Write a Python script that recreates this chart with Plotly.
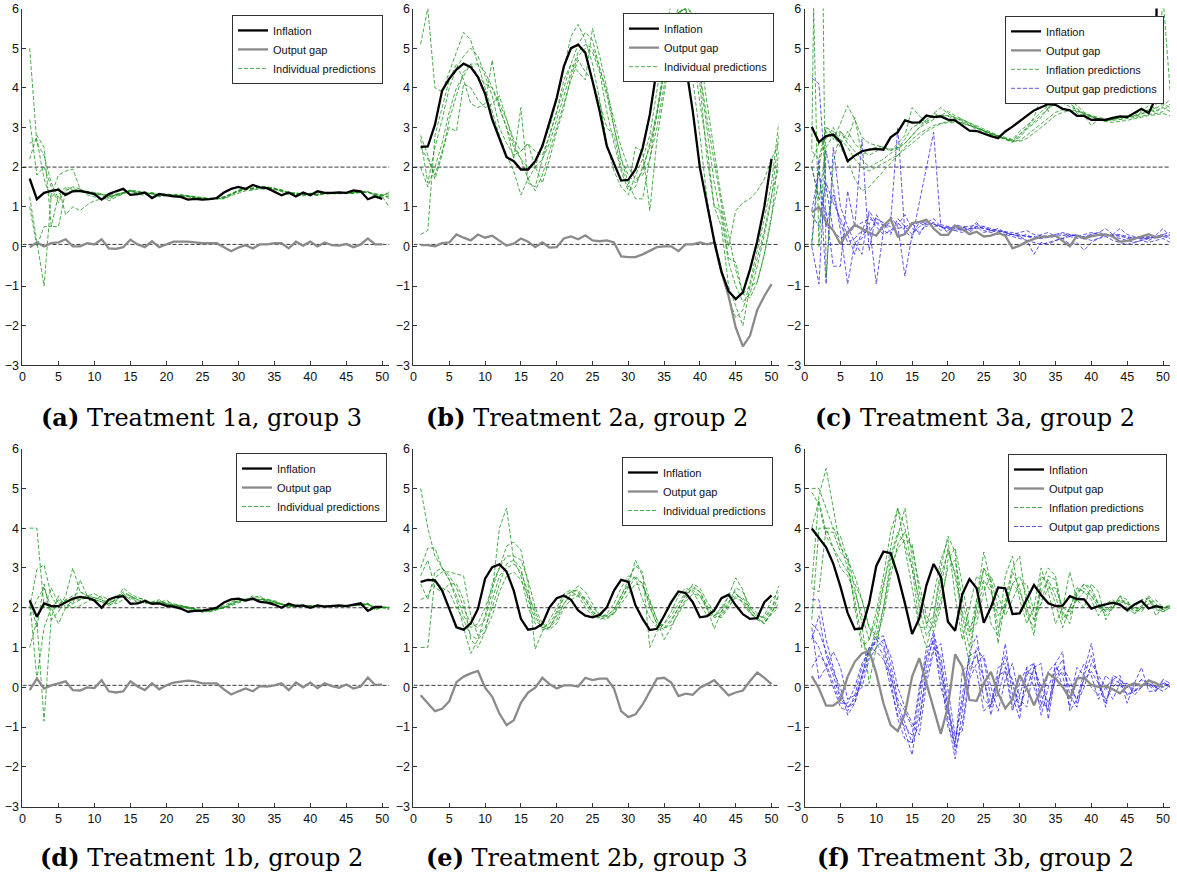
import plotly.graph_objects as go

# ---------------- data ----------------
periods = list(range(1, 51))
pred_periods = list(range(1, 52))
x_ticks = [0, 5, 10, 15, 20, 25, 30, 35, 40, 45, 50]
y_ticks = [-3, -2, -1, 0, 1, 2, 3, 4, 5, 6]
inflation_target = 2.0
gap_line = 0.05

captions = ["(a)|Treatment 1a, group 3", "(b)|Treatment 2a, group 2", "(c)|Treatment 3a, group 2",
            "(d)|Treatment 1b, group 2", "(e)|Treatment 2b, group 3", "(f)|Treatment 3b, group 2"]

# (a) Treatment 1a, group 3
a_inf = [1.71,1.19,1.35,1.40,1.43,1.30,1.39,1.40,1.36,1.32,1.18,1.32,1.39,1.45,1.30,1.32,1.36,1.22,1.32,1.29,
         1.26,1.25,1.18,1.20,1.18,1.19,1.22,1.36,1.45,1.50,1.45,1.55,1.49,1.47,1.39,1.29,1.36,1.26,1.36,1.29,
         1.39,1.35,1.35,1.36,1.35,1.41,1.39,1.19,1.26,1.20]
a_gap = [-0.02,0.10,0.00,0.08,0.10,0.18,0.00,0.00,0.08,0.05,0.18,-0.05,-0.06,-0.02,0.17,0.05,-0.02,0.13,-0.02,0.05,
         0.12,0.12,0.12,0.10,0.08,0.08,0.08,-0.02,-0.12,-0.03,0.03,-0.05,0.05,0.05,0.08,0.08,-0.05,0.12,0.02,0.12,
         0.00,0.10,0.03,0.02,0.06,-0.02,0.05,0.20,0.05,0.05]
a_pred1 = [5.0,2.6,2.3,1.6,1.2,1.35,1.4,1.38,1.36,1.33,1.3,1.25,1.3,1.35,1.4,1.33,1.32,1.34,1.28,1.3,1.29,1.27,1.26,1.22,1.21,1.2,1.2,1.22,1.3,1.4,1.45,1.46,1.5,1.48,1.46,1.4,1.33,1.35,1.3,1.33,1.3,1.35,1.34,1.34,1.35,1.35,1.38,1.37,1.3,1.27,1.25]
a_pred2 = [3.2,1.8,2.0,1.5,1.1,1.45,1.42,1.4,1.38,1.35,1.32,1.22,1.3,1.37,1.42,1.35,1.33,1.35,1.27,1.3,1.3,1.28,1.27,1.22,1.2,1.19,1.2,1.23,1.33,1.42,1.47,1.47,1.52,1.5,1.47,1.4,1.32,1.34,1.3,1.34,1.31,1.36,1.35,1.34,1.35,1.35,1.39,1.38,1.28,1.26,1.4]
a_pred3 = [2.2,2.8,2.5,0.5,0.5,1.4,1.5,1.45,1.3,1.25,1.2,1.2,1.27,1.35,1.42,1.4,1.35,1.33,1.3,1.32,1.3,1.3,1.28,1.25,1.22,1.2,1.21,1.25,1.32,1.38,1.43,1.45,1.48,1.47,1.45,1.42,1.35,1.33,1.3,1.32,1.3,1.33,1.33,1.32,1.33,1.34,1.36,1.36,1.32,1.3,1.2]
a_pred4 = [1.25,0.1,-1.0,1.3,1.8,1.9,1.95,1.45,1.35,1.32,1.3,1.15,1.25,1.33,1.4,1.3,1.3,1.33,1.25,1.28,1.28,1.26,1.25,1.2,1.19,1.18,1.2,1.21,1.3,1.4,1.45,1.44,1.5,1.47,1.45,1.38,1.3,1.33,1.27,1.33,1.28,1.36,1.34,1.34,1.35,1.35,1.39,1.38,1.25,1.26,0.98]
a_pred5 = [2.6,2.7,1.7,1.2,1.5,0.8,1.0,0.9,1.05,1.15,1.2,1.25,1.3,1.33,1.38,1.38,1.36,1.32,1.31,1.3,1.3,1.29,1.27,1.24,1.22,1.2,1.2,1.2,1.28,1.35,1.4,1.42,1.45,1.44,1.43,1.4,1.35,1.31,1.31,1.31,1.29,1.32,1.33,1.33,1.33,1.34,1.36,1.37,1.33,1.3,1.3]
a_pred6 = [1.0,0.0,0.5,0.5,1.3,1.5,1.45,1.42,1.38,1.36,1.33,1.28,1.32,1.36,1.4,1.36,1.34,1.36,1.3,1.32,1.3,1.3,1.28,1.25,1.23,1.21,1.22,1.25,1.33,1.4,1.44,1.47,1.5,1.5,1.47,1.43,1.36,1.35,1.32,1.34,1.32,1.35,1.35,1.35,1.36,1.36,1.37,1.37,1.3,1.28,1.36]

# (b) Treatment 2a, group 2
b_inf = [2.51,2.52,3.07,3.93,4.23,4.46,4.61,4.52,4.27,3.85,3.20,2.75,2.25,2.15,1.94,1.94,2.15,2.53,3.11,3.74,
         4.54,5.00,5.09,4.88,4.17,3.41,2.53,2.08,1.66,1.68,1.94,2.48,3.32,4.50,5.40,5.80,5.60,4.60,3.41,1.98,
         1.05,0.13,-0.63,-1.13,-1.33,-1.16,-0.58,0.13,1.01,2.21]
b_gap = [0.03,0.03,0.00,0.08,0.10,0.30,0.22,0.15,0.30,0.22,0.27,0.15,0.02,0.07,0.20,0.12,-0.02,0.10,-0.03,-0.02,
         0.20,0.25,0.18,0.28,0.15,0.13,0.15,0.10,-0.25,-0.27,-0.27,-0.20,-0.12,-0.02,0.00,0.00,-0.12,0.05,0.05,0.10,
         0.05,0.10,-0.65,-1.25,-2.05,-2.52,-2.25,-1.60,-1.25,-0.95]
b_pred1 = [5.1,6.0,4.0,3.9,4.4,4.9,5.4,5.2,4.6,4.0,3.4,2.8,2.3,1.9,1.3,1.7,2.0,2.6,3.0,3.7,4.5,5.3,5.6,5.2,4.6,3.7,2.6,1.9,1.5,1.3,1.8,2.2,2.8,3.9,5.0,6.2,6.5,5.9,4.2,2.8,1.2,0.2,-0.6,-1.3,-1.8,-1.6,-0.9,-0.1,0.7,1.6,3.1]
b_pred2 = [2.7,1.6,2.5,3.2,4.0,4.5,4.8,5.0,4.8,4.3,3.8,3.0,2.6,2.3,2.4,2.6,2.4,2.3,2.8,3.4,4.0,4.6,5.1,5.4,5.2,4.5,3.8,3.0,2.2,1.8,1.6,1.9,2.6,3.4,4.4,5.6,6.0,6.3,5.6,4.3,2.9,1.6,0.7,-0.4,-1.0,-1.4,-1.2,-0.5,0.3,1.2,2.8]
b_pred3 = [2.0,1.5,2.0,2.6,3.4,4.0,4.3,4.6,4.6,4.4,4.0,3.5,3.0,2.5,2.2,2.0,2.0,2.2,2.6,3.2,3.8,4.4,4.9,5.1,5.0,4.5,3.9,3.2,2.5,2.0,1.7,1.8,2.2,3.0,4.0,5.1,5.8,6.2,5.8,4.9,3.6,2.4,1.2,0.3,-0.6,-1.2,-1.3,-0.9,-0.2,0.7,2.4]
b_pred4 = [0.3,0.4,2.8,3.5,4.2,4.6,4.2,3.6,3.5,3.6,4.7,3.5,3.0,2.2,3.5,1.6,1.5,2.2,2.8,3.4,4.2,4.6,4.4,4.2,5.5,4.8,4.0,3.0,2.2,1.6,1.2,1.2,2.2,3.4,4.5,5.8,5.9,6.0,5.0,3.6,2.5,1.0,0.5,-1.0,-1.5,-2.0,-1.0,-0.3,0.4,1.3,2.0]
b_pred5 = [2.5,2.2,1.8,2.4,3.0,2.9,4.1,4.0,3.7,3.5,3.6,3.8,3.2,2.6,2.2,1.7,1.4,1.8,2.4,3.0,3.6,4.2,4.7,4.4,4.2,3.6,3.0,2.8,2.0,1.5,2.5,2.4,0.9,2.7,3.8,5.0,5.9,6.0,5.2,4.1,2.2,1.0,0.9,-0.3,-0.4,-1.2,-1.0,-0.9,-0.2,0.8,1.6]
b_pred6 = [2.8,2.3,1.7,2.3,3.2,3.8,4.4,4.6,4.3,4.1,4.0,3.6,3.2,2.7,2.4,2.6,2.0,1.6,2.2,2.9,3.5,4.3,4.8,5.0,4.9,4.4,3.4,2.6,1.9,1.4,1.5,2.0,2.5,3.3,4.4,5.4,5.9,6.0,5.4,4.4,3.2,2.1,1.1,0.0,0.9,1.1,1.2,1.4,1.7,2.2,2.6]

# (c) Treatment 3a, group 2
c_inf = [3.02,2.63,2.78,2.82,2.63,2.15,2.29,2.40,2.44,2.46,2.44,2.75,2.88,3.18,3.12,3.13,3.30,3.26,3.28,3.20,
         3.18,3.05,2.92,2.91,2.84,2.78,2.73,2.90,3.02,3.15,3.29,3.43,3.51,3.59,3.57,3.47,3.43,3.29,3.29,3.19,
         3.20,3.19,3.24,3.28,3.26,3.36,3.47,3.36,3.74,26.0]
c_gap = [0.86,0.99,0.61,0.40,0.06,0.35,0.54,0.44,0.35,0.27,0.52,0.69,0.25,0.31,0.59,0.62,0.67,0.45,0.29,0.29,
         0.52,0.44,0.31,0.37,0.25,0.27,0.34,0.27,-0.05,0.02,0.12,0.19,0.24,0.25,0.27,0.14,0.00,0.27,0.20,0.25,
         0.29,0.30,0.25,0.12,0.14,0.19,0.25,0.31,0.23,0.27]
c_pred1 = [8.2,0.0,2.9,2.7,3.1,3.55,3.2,2.75,2.6,2.55,2.5,2.45,2.5,2.6,2.8,3.0,3.2,3.3,3.3,3.28,3.22,3.18,3.08,2.98,2.92,2.85,2.78,2.72,2.68,2.82,2.98,3.14,3.3,3.48,3.6,3.62,3.52,3.45,3.32,3.26,3.2,3.18,3.2,3.25,3.28,3.28,3.34,3.44,3.38,3.55,3.7]
c_pred2 = [2.45,16.2,-0.8,2.1,2.9,2.7,3.25,2.3,2.45,2.5,2.52,2.42,2.48,2.7,3.0,3.1,3.15,3.35,3.3,3.3,3.25,3.15,3.05,2.95,2.9,2.82,2.78,2.7,2.65,2.75,2.95,3.1,3.25,3.5,3.65,3.72,3.6,3.48,3.35,3.27,3.22,3.18,3.2,3.24,3.26,3.3,3.38,3.45,3.42,3.5,3.4]
c_pred3 = [0.0,2.0,3.0,2.9,2.7,2.5,2.2,2.0,1.9,2.0,2.1,2.2,2.3,2.45,2.6,2.75,2.9,3.0,3.1,3.15,3.15,3.12,3.05,2.98,2.9,2.84,2.78,2.72,2.65,2.68,2.8,2.95,3.1,3.25,3.38,3.45,3.45,3.42,3.35,3.28,3.22,3.18,3.18,3.2,3.22,3.25,3.28,3.33,3.35,3.4,3.6]
c_pred4 = [2.0,1.2,2.5,2.8,2.5,2.2,1.7,1.4,1.5,1.7,1.9,2.1,2.3,2.5,2.7,2.85,2.95,3.05,3.1,3.12,3.12,3.1,3.05,3.0,2.92,2.85,2.78,2.72,2.66,2.65,2.72,2.85,3.0,3.15,3.3,3.38,3.42,3.4,3.35,3.28,3.22,3.15,3.13,3.15,3.18,3.22,3.26,3.3,3.32,3.35,3.3]
c_pred5 = [2.4,2.2,3.0,2.8,2.9,2.6,2.4,2.2,2.0,2.1,2.2,2.35,2.45,2.6,2.8,3.0,3.1,3.2,3.3,3.4,3.3,3.2,3.1,3.0,2.9,2.82,2.75,2.7,2.62,2.8,3.0,3.25,3.8,3.4,4.0,3.6,3.7,3.35,3.3,3.05,3.2,3.15,3.25,3.2,3.3,3.28,3.35,3.4,3.5,6.3,3.9]
c_pred6 = [2.1,2.6,2.7,3.0,2.6,2.9,2.6,2.4,2.3,2.4,2.5,2.4,2.6,2.8,3.5,3.3,3.1,3.35,3.5,3.35,3.25,3.2,3.12,3.02,2.95,2.88,2.8,2.75,2.7,2.9,3.05,3.2,3.4,3.55,3.7,3.8,3.7,3.55,3.38,3.3,3.25,3.22,3.24,3.28,3.3,3.34,3.42,3.55,3.48,3.6,3.5]
c_gpred1 = [4.25,4.1,1.5,0.4,0.2,0.3,0.5,0.6,0.7,0.6,0.55,0.5,0.45,0.5,0.55,0.6,0.62,0.55,0.5,0.48,0.45,0.48,0.45,0.5,0.45,0.42,0.4,0.38,0.35,0.3,0.25,0.2,0.2,0.22,0.25,0.28,0.25,0.2,0.22,0.25,0.28,0.3,0.28,0.25,0.22,0.2,0.2,0.22,0.25,0.25,0.3]
c_gpred2 = [0.1,2.2,-0.95,2.5,1.0,0.5,0.1,-0.2,0.9,0.6,0.4,0.3,0.7,0.5,0.3,0.5,0.6,0.7,0.5,0.45,0.4,0.5,0.5,0.55,0.5,0.45,0.4,0.35,0.3,0.28,0.25,0.25,0.22,0.25,0.3,0.32,0.28,0.25,0.25,0.3,0.35,0.3,0.28,0.3,0.25,0.2,0.22,0.25,0.2,0.25,0.2]
c_gpred3 = [2.0,1.2,0.9,-0.5,-0.5,1.4,0.5,2.7,-0.1,0.8,0.5,0.6,3.0,0.3,0.6,0.3,0.6,0.5,0.55,0.5,0.45,0.4,0.45,0.45,0.5,0.4,0.35,0.3,0.3,0.25,0.15,0.1,0.05,0.1,0.15,0.2,0.25,0.3,0.2,0.15,0.2,0.3,0.25,0.2,0.15,0.1,0.15,0.2,0.25,0.3,0.35]
c_gpred4 = [0.0,-0.95,2.4,1.5,0.4,-0.95,0.1,0.2,0.6,-0.95,0.4,0.75,0.5,-0.75,0.3,0.6,0.5,0.6,0.4,0.5,0.4,0.35,0.45,0.6,0.4,0.35,0.3,0.3,0.25,0.2,0.15,-0.2,0.1,0.05,0.15,0.2,0.05,0.1,-0.1,0.1,0.2,0.25,0.15,0.1,0.05,0.1,0.15,0.1,0.15,0.2,0.1]
c_gpred5 = [0.8,0.5,1.6,1.1,0.7,0.3,-0.2,0.4,0.8,0.5,0.3,0.4,0.6,0.4,0.2,1.1,2.0,2.88,0.5,0.35,0.5,0.4,0.35,0.5,0.45,0.4,0.38,0.35,0.3,0.35,0.4,0.3,0.28,0.25,0.3,0.35,0.3,0.28,0.2,0.3,0.35,0.45,0.3,0.28,0.2,0.22,0.18,0.2,0.28,0.45,0.25]
c_gpred6 = [0.9,1.9,0.5,1.3,0.6,0.1,0.2,0.4,0.3,0.7,0.6,0.35,0.55,0.8,0.45,0.35,0.55,0.6,0.5,0.4,0.55,0.5,0.4,0.5,0.35,0.4,0.45,0.35,0.3,0.25,0.3,0.2,0.3,0.35,0.25,0.2,0.3,0.25,0.3,0.35,0.3,0.25,0.3,0.45,0.3,0.25,0.25,0.15,0.25,0.3,0.22]

# (d) Treatment 1b, group 2
d_inf = [2.18,1.77,2.11,2.04,2.04,2.13,2.23,2.27,2.25,2.18,2.00,2.21,2.27,2.29,2.10,2.11,2.17,2.10,2.11,2.05,
         2.03,1.98,1.90,1.92,1.93,1.96,2.00,2.13,2.21,2.23,2.18,2.23,2.15,2.13,2.08,2.00,2.10,2.04,2.06,2.00,
         2.06,2.03,2.04,2.06,2.04,2.08,2.11,1.92,2.02,2.02]
d_gap = [-0.07,0.22,-0.03,0.05,0.10,0.15,-0.07,-0.08,0.00,-0.02,0.18,-0.10,-0.13,-0.10,0.15,0.02,-0.07,0.10,-0.05,0.05,
         0.12,0.14,0.17,0.15,0.10,0.10,0.10,-0.05,-0.18,-0.10,-0.03,-0.10,0.03,0.02,0.05,0.10,-0.07,0.12,0.00,0.12,
         -0.02,0.10,0.03,-0.01,0.07,-0.03,0.02,0.25,0.06,0.07]
d_pred1 = [4.0,4.0,2.0,2.5,2.1,2.2,2.3,2.4,2.3,2.25,2.2,2.1,2.2,2.3,2.25,2.15,2.12,2.14,2.12,2.1,2.07,2.05,2.0,1.95,1.93,1.95,1.97,2.02,2.1,2.17,2.2,2.2,2.2,2.17,2.12,2.08,2.04,2.06,2.05,2.04,2.03,2.04,2.04,2.05,2.05,2.05,2.07,2.09,2.0,2.01,2.01]
d_pred2 = [2.0,2.96,3.08,2.3,2.0,2.3,3.0,2.4,2.3,2.2,2.15,2.05,2.25,2.4,2.3,2.1,2.15,2.1,2.15,2.08,2.04,2.02,1.98,1.9,1.92,1.95,1.98,2.05,2.15,2.2,2.22,2.2,2.22,2.18,2.14,2.08,2.02,2.08,2.04,2.06,2.02,2.05,2.04,2.05,2.06,2.05,2.08,2.1,1.95,2.0,2.02]
d_pred3 = [1.0,1.67,-0.85,1.75,2.3,2.0,2.1,2.2,2.25,2.2,2.15,2.1,2.2,2.35,2.3,2.2,2.15,2.1,2.18,2.1,2.06,2.03,2.0,1.92,1.9,1.93,1.97,2.0,2.1,2.16,2.2,2.23,2.2,2.2,2.15,2.1,2.05,2.06,2.05,2.02,2.04,2.03,2.04,2.06,2.04,2.06,2.08,2.1,1.98,2.0,1.98]
d_pred4 = [2.2,1.5,2.6,1.7,1.9,2.2,2.1,2.7,2.3,2.35,2.25,2.1,2.3,2.35,2.2,2.25,2.2,2.1,2.12,2.2,2.05,2.03,2.02,1.97,1.88,1.92,1.98,2.0,2.12,2.18,2.2,2.3,2.25,2.2,2.18,2.1,2.05,2.02,2.06,2.05,2.06,2.02,2.05,2.04,2.05,2.07,2.06,2.08,1.98,2.02,2.0]
d_pred5 = [1.8,2.2,2.5,2.0,1.6,2.0,2.2,2.2,2.3,2.2,2.3,2.2,2.1,2.2,2.3,2.2,2.1,2.15,2.2,2.1,2.08,2.05,2.0,1.98,1.95,1.9,1.95,2.0,2.05,2.12,2.18,2.22,2.2,2.22,2.15,2.1,2.02,2.05,2.03,2.04,2.05,2.06,2.03,2.05,2.05,2.06,2.08,2.12,1.95,2.02,1.95]
d_pred6 = [2.2,0.2,1.5,2.0,2.2,2.1,2.0,2.05,2.15,2.25,2.2,2.05,2.15,2.5,2.35,2.25,2.2,2.12,2.1,2.15,2.1,2.06,2.02,1.95,1.92,1.9,1.95,2.0,2.08,2.15,2.2,2.25,2.3,2.15,2.12,2.1,2.06,2.03,2.04,2.03,2.05,2.04,2.03,2.04,2.05,2.06,2.06,2.08,2.02,2.03,2.0]

# (e) Treatment 2b, group 3
e_inf = [2.65,2.70,2.69,2.43,1.97,1.51,1.45,1.61,1.97,2.73,3.02,3.09,2.91,2.43,1.72,1.45,1.48,1.59,2.01,2.24,
         2.31,2.20,1.93,1.80,1.76,1.82,2.01,2.43,2.70,2.65,2.06,1.72,1.44,1.47,1.80,2.14,2.41,2.37,2.14,1.76,
         1.79,1.93,2.24,2.33,2.06,1.84,1.72,1.74,2.14,2.31]
e_gap = [-0.20,-0.39,-0.60,-0.54,-0.35,0.13,0.27,0.35,0.41,-0.01,-0.24,-0.66,-0.95,-0.83,-0.39,-0.13,-0.01,0.24,0.08,-0.03,
         0.05,0.05,0.02,0.24,0.18,0.22,0.22,-0.03,-0.60,-0.75,-0.68,-0.43,-0.11,0.22,0.24,0.12,-0.22,-0.16,-0.19,-0.01,
         0.08,0.18,-0.01,-0.20,-0.13,-0.08,0.16,0.37,0.24,0.08]
e_pred1 = [5.0,4.0,3.3,3.0,2.8,2.5,2.0,1.6,1.5,1.7,2.4,4.0,4.5,3.2,2.8,2.0,1.6,1.5,1.6,1.9,2.3,2.4,2.3,2.0,1.8,1.75,1.85,2.1,2.5,2.8,2.75,2.2,1.75,1.5,1.6,1.9,2.3,2.5,2.4,2.1,1.8,1.8,2.0,2.3,2.4,2.1,1.85,1.72,1.8,2.2,2.4]
e_pred2 = [1.0,1.0,2.75,2.9,2.9,2.85,2.8,1.8,1.3,1.5,2.0,2.6,3.1,3.2,3.0,2.2,1.7,1.5,1.5,1.7,2.1,2.3,2.35,2.2,1.9,1.8,1.8,1.95,2.3,2.6,2.8,2.6,2.0,1.6,1.5,1.7,2.0,2.35,2.45,2.3,1.95,1.8,1.9,2.15,2.35,2.2,1.95,1.8,1.75,2.0,2.3]
e_pred3 = [3.0,3.5,3.5,3.0,2.7,2.3,1.8,1.5,1.6,2.0,2.5,3.0,3.3,3.3,3.2,2.7,2.0,1.6,1.5,1.8,2.1,2.35,2.55,2.4,2.1,1.8,1.75,1.85,2.2,2.55,3.2,2.8,2.2,1.7,1.2,1.5,1.9,2.2,2.6,2.5,2.15,1.9,1.85,2.1,2.5,2.4,2.05,1.85,1.7,1.95,2.55]
e_pred4 = [2.6,2.2,2.9,3.0,2.7,2.2,1.5,0.85,1.2,1.8,2.6,3.0,3.55,3.65,3.45,2.6,0.96,1.4,1.7,2.0,2.35,2.45,2.4,2.1,1.85,1.7,1.8,1.95,2.3,2.7,3.05,2.9,1.0,1.4,1.6,1.8,2.1,2.4,2.55,2.4,2.0,1.47,1.9,2.3,2.75,2.45,1.9,1.7,1.6,1.85,2.3]
e_pred5 = [2.8,3.2,2.5,2.4,2.6,2.6,2.2,1.2,1.0,1.4,2.2,2.8,3.0,3.1,2.9,2.4,1.8,1.45,1.5,1.85,2.25,2.4,2.45,2.2,1.9,1.75,1.7,1.9,2.2,2.5,2.75,2.6,2.1,1.55,1.45,1.65,2.0,2.3,2.5,2.4,2.05,1.8,1.75,2.0,2.3,2.25,2.0,1.75,1.6,1.9,2.1]
e_pred6 = [2.2,2.3,2.7,2.5,2.4,2.0,1.7,1.3,1.2,1.4,1.8,2.4,2.8,2.9,2.7,2.3,1.9,1.5,1.45,1.6,2.0,2.2,2.3,2.25,2.0,1.85,1.78,1.85,2.1,2.35,2.6,2.55,2.15,1.7,1.5,1.55,1.85,2.15,2.35,2.3,2.0,1.75,1.8,2.05,2.25,2.15,1.9,1.7,1.65,1.85,2.0]

# (f) Treatment 3b, group 2
f_inf = [3.99,3.74,3.52,3.11,2.53,1.87,1.46,1.48,2.11,3.05,3.41,3.37,2.82,2.11,1.34,1.73,2.57,3.10,2.78,1.65,
         1.42,2.34,2.72,2.49,1.62,2.02,2.51,2.49,1.84,1.86,2.23,2.57,2.32,2.11,2.04,2.05,2.29,2.22,2.21,1.98,
         2.04,2.09,2.13,2.08,1.94,2.08,2.17,1.98,2.04,2.00]
f_gap = [0.28,-0.03,-0.46,-0.46,-0.32,0.27,0.64,0.85,0.92,0.35,-0.40,-0.95,-1.10,-0.66,0.27,0.73,0.10,-0.57,-1.17,-0.49,
         0.83,0.52,-0.32,-0.34,0.10,0.39,-0.15,-0.53,-0.30,0.31,-0.03,-0.45,-0.05,0.35,0.22,0.01,-0.28,0.22,0.25,0.06,
         0.01,0.03,-0.05,-0.15,0.03,0.10,0.03,0.17,0.11,0.01]
f_pred1 = [5.0,5.0,4.5,4.0,3.6,3.0,2.2,1.2,0.8,1.5,2.5,3.5,4.5,4.0,3.0,1.6,1.0,1.8,3.0,3.8,3.4,1.5,0.6,2.2,3.4,2.6,1.1,2.2,3.0,3.3,2.0,1.3,2.6,3.0,2.8,1.9,1.6,2.4,2.6,2.5,2.1,1.8,2.0,2.3,2.2,1.85,2.0,2.3,2.1,1.95,2.1]
f_pred2 = [2.6,4.8,5.5,4.5,3.5,3.3,2.5,1.6,0.1,1.0,2.0,3.2,3.8,4.5,3.2,2.0,1.3,1.6,2.5,3.5,2.8,1.8,1.0,2.0,3.0,2.5,1.5,2.0,2.9,2.5,1.8,1.5,2.8,2.6,2.1,1.5,2.0,2.5,2.4,2.2,1.8,2.1,2.2,2.05,1.9,2.0,2.2,2.25,1.8,2.0,2.05]
f_pred3 = [1.7,4.0,4.0,3.5,3.2,2.9,2.6,2.2,1.5,1.2,1.8,2.8,3.6,3.9,3.5,2.6,1.8,1.5,2.2,3.0,3.2,2.2,1.4,1.6,2.4,2.8,2.3,1.8,2.2,2.6,2.6,1.9,2.1,2.5,2.5,2.0,1.9,2.2,2.4,2.3,2.0,1.95,2.05,2.15,2.1,2.0,1.95,2.1,2.05,1.95,2.05]
f_pred4 = [4.0,4.7,3.9,3.9,3.4,3.2,2.0,1.0,1.2,1.9,2.8,3.9,4.5,3.5,2.5,1.5,1.5,2.3,3.2,3.7,2.3,1.2,2.0,2.8,2.6,1.6,1.3,2.8,3.3,2.2,1.6,2.0,3.0,2.4,1.6,2.0,2.9,2.2,2.0,2.6,2.4,1.7,2.0,2.3,2.0,1.85,2.0,2.25,2.0,1.9,2.0]
f_pred5 = [2.5,2.4,4.0,4.0,3.8,3.2,2.8,2.2,1.5,1.3,2.0,3.0,3.5,3.7,3.6,2.4,1.6,1.4,2.0,3.2,3.5,2.6,1.5,1.8,2.7,2.4,1.8,2.1,2.6,2.8,2.3,1.7,2.1,2.8,2.7,1.8,1.8,2.3,2.6,2.4,2.1,1.9,2.0,2.2,2.15,1.95,1.9,2.1,2.2,2.0,2.05]
f_pred6 = [4.9,4.6,3.8,3.5,3.0,2.8,2.4,1.8,1.2,1.7,2.6,3.3,3.9,3.6,3.0,2.2,1.6,1.8,2.8,3.4,2.9,1.9,1.3,2.2,3.0,2.7,2.0,2.0,2.6,2.4,1.9,1.7,2.4,2.7,2.3,1.7,2.0,2.4,2.5,2.3,2.1,1.9,2.1,2.2,2.1,1.9,2.05,2.2,1.95,1.9,2.0]
f_gpred1 = [2.2,2.2,1.2,0.5,-0.2,-0.5,-0.3,0.3,0.9,1.3,1.1,0.4,-0.5,-1.1,-1.7,-0.5,0.8,1.4,0.6,-0.8,-1.8,-0.6,0.9,1.3,0.2,-0.7,0.1,1.1,-0.2,-0.8,0.5,0.6,-0.4,-0.5,0.6,0.9,-0.6,-0.3,0.4,1.1,0.1,-0.5,0.3,0.2,-0.4,0.1,0.5,-0.1,-0.1,0.2,0.1]
f_gpred2 = [1.6,1.4,0.9,0.4,0.0,-0.7,-0.4,0.2,0.8,1.2,1.0,0.2,-0.8,-1.3,-1.4,-0.2,1.0,1.1,0.3,-1.0,-1.4,-0.2,0.8,0.9,-0.3,-0.5,0.5,0.6,-0.5,-0.2,0.4,0.3,-0.7,0.0,0.5,0.3,-0.5,0.2,0.6,0.3,-0.3,0.0,0.2,0.1,-0.2,0.0,0.2,0.1,0.0,0.1,0.05]
f_gpred3 = [1.3,1.0,0.5,0.0,-0.5,-0.6,-0.2,0.5,1.0,1.1,0.8,0.0,-0.7,-1.0,-1.2,0.0,0.7,1.2,0.0,-0.6,-1.5,0.4,0.6,0.4,-0.6,-0.4,0.3,0.4,-0.6,0.1,0.5,0.0,-0.5,0.4,0.6,0.0,-0.3,0.5,0.3,0.0,-0.2,0.3,0.1,0.0,0.1,-0.1,0.0,0.1,0.0,0.15,0.0]
f_gpred4 = [0.5,0.8,0.6,0.1,-0.4,-0.4,0.0,0.6,0.9,1.2,1.3,0.6,-0.3,-0.6,-1.0,-0.8,0.3,1.0,0.8,-0.4,-1.6,-0.9,0.3,1.0,0.7,-0.3,-0.2,0.5,0.2,-0.5,0.0,0.5,0.0,-0.4,0.2,0.4,0.0,-0.3,0.2,0.4,0.1,-0.3,0.0,0.2,0.0,-0.1,0.05,0.1,-0.05,0.0,0.1]
f_gpred5 = [1.5,0.2,0.5,0.9,0.5,-0.3,-0.2,0.0,0.7,1.0,1.2,0.8,0.0,-0.5,-0.9,-1.2,0.1,0.9,1.1,0.0,-1.2,-1.1,0.2,0.6,0.8,0.0,-0.6,0.2,0.6,-0.3,-0.5,0.5,0.6,-0.8,0.3,0.5,0.2,-0.4,0.0,0.6,0.3,0.0,-0.3,0.1,0.1,-0.2,0.0,0.2,0.0,-0.1,0.05]
f_gpred6 = [1.2,1.8,0.8,0.3,-0.3,-0.5,-0.4,0.3,1.0,0.9,0.7,0.3,-0.4,-0.9,-1.4,-0.9,0.5,1.3,0.5,-0.5,-1.3,-0.4,0.5,0.8,0.2,-0.5,0.2,0.8,0.1,-0.6,0.3,0.6,-0.2,-0.6,0.4,0.7,-0.2,-0.5,0.3,0.8,0.2,-0.4,0.2,0.3,-0.2,-0.1,0.2,0.05,-0.1,0.1,0.0]

panels = [
    dict(inf=a_inf, gap=a_gap, ipred=[a_pred1, a_pred2, a_pred3, a_pred4, a_pred5, a_pred6], gpred=[], ilabel="Individual predictions"),
    dict(inf=b_inf, gap=b_gap, ipred=[b_pred1, b_pred2, b_pred3, b_pred4, b_pred5, b_pred6], gpred=[], ilabel="Individual predictions"),
    dict(inf=c_inf, gap=c_gap, ipred=[c_pred1, c_pred2, c_pred3, c_pred4, c_pred5, c_pred6],
         gpred=[c_gpred1, c_gpred2, c_gpred3, c_gpred4, c_gpred5, c_gpred6], ilabel="Inflation predictions"),
    dict(inf=d_inf, gap=d_gap, ipred=[d_pred1, d_pred2, d_pred3, d_pred4, d_pred5, d_pred6], gpred=[], ilabel="Individual predictions"),
    dict(inf=e_inf, gap=e_gap, ipred=[e_pred1, e_pred2, e_pred3, e_pred4, e_pred5, e_pred6], gpred=[], ilabel="Individual predictions"),
    dict(inf=f_inf, gap=f_gap, ipred=[f_pred1, f_pred2, f_pred3, f_pred4, f_pred5, f_pred6],
         gpred=[f_gpred1, f_gpred2, f_gpred3, f_gpred4, f_gpred5, f_gpred6], ilabel="Inflation predictions"),
]

# ---------------- layout geometry ----------------
W, H = 1177, 878
col_dom = [[0.0191, 0.3309], [0.3513, 0.6616], [0.6836, 0.9942]]
row_dom = [[0.5839, 0.9903], [0.0812, 0.4891]]
legend_pos = [(0.3254, 0.983), (0.6576, 0.985), (0.989, 0.982),
              (0.3288, 0.484), (0.6567, 0.4795), (0.9915, 0.4829)]
caption_pos = [(0.1708, 0.524), (0.4987, 0.524), (0.8284, 0.524),
               (0.1708, 0.0228), (0.4987, 0.0228), (0.8284, 0.0228)]

TICK_FONT = dict(family="Liberation Sans, Arial, sans-serif", size=12.5, color="#111")
LEG_FONT = dict(family="Liberation Sans, Arial, sans-serif", size=11, color="#111")
GREEN = "rgba(20,145,20,0.85)"
BLUE = "rgba(45,35,225,0.85)"
DASH = "4px,2px"

fig = go.Figure()
layout = dict(width=W, height=H, margin=dict(l=0, r=0, t=0, b=0, pad=0, autoexpand=False), autosize=False,
              paper_bgcolor="white", plot_bgcolor="white", showlegend=True, template="none")
shapes = []
annotations = []

for i, p in enumerate(panels):
    k = i + 1
    xa = "x" if k == 1 else f"x{k}"
    ya = "y" if k == 1 else f"y{k}"
    leg = "legend" if k == 1 else f"legend{k}"
    r, c = divmod(i, 3)

    for j, series in enumerate(p["gpred"]):
        fig.add_trace(go.Scatter(x=pred_periods, y=series, mode="lines", xaxis=xa, yaxis=ya, legend=leg,
                                 line=dict(color=BLUE, width=0.9, dash=DASH),
                                 name="Output gap predictions", showlegend=(j == 0), legendrank=4,
                                 hoverinfo="skip"))
    for j, series in enumerate(p["ipred"]):
        fig.add_trace(go.Scatter(x=pred_periods, y=series, mode="lines", xaxis=xa, yaxis=ya, legend=leg,
                                 line=dict(color=GREEN, width=0.9, dash=DASH),
                                 name=p["ilabel"], showlegend=(j == 0), legendrank=3,
                                 hoverinfo="skip"))
    fig.add_trace(go.Scatter(x=periods, y=p["gap"], mode="lines", xaxis=xa, yaxis=ya, legend=leg,
                             line=dict(color="#8a8a8a", width=2.3), name="Output gap", legendrank=2))
    fig.add_trace(go.Scatter(x=periods, y=p["inf"], mode="lines", xaxis=xa, yaxis=ya, legend=leg,
                             line=dict(color="black", width=2.3), name="Inflation", legendrank=1))

    axkey_x = "xaxis" if k == 1 else f"xaxis{k}"
    axkey_y = "yaxis" if k == 1 else f"yaxis{k}"
    layout[axkey_x] = dict(domain=col_dom[c], anchor=ya, range=[0, 51], tickvals=x_ticks, automargin=False,
                           showline=True, linecolor="#333", linewidth=1, ticks="inside", ticklen=4,
                           tickcolor="#333", showgrid=False, zeroline=False, tickfont=TICK_FONT, mirror=False)
    layout[axkey_y] = dict(domain=row_dom[r], anchor=xa, range=[-3, 6], tickvals=y_ticks, automargin=False,
                           showline=True, linecolor="#333", linewidth=1, ticks="inside", ticklen=4,
                           tickcolor="#333", showgrid=False, zeroline=False, tickfont=TICK_FONT, mirror=False)
    layout[leg] = dict(x=legend_pos[i][0], y=legend_pos[i][1], xanchor="right", yanchor="top",
                       bgcolor="white", bordercolor="#333", borderwidth=1, font=LEG_FONT,
                       traceorder="normal", itemwidth=30, tracegroupgap=0)

    for yv in (inflation_target, gap_line):
        shapes.append(dict(type="line", xref=xa, yref=ya, x0=0, x1=51, y0=yv, y1=yv, layer="below",
                           line=dict(color="#222", width=0.9, dash=DASH)))

    tag, txt = captions[i].split("|")
    annotations.append(dict(text=f"<b>{tag}</b> {txt}", x=caption_pos[i][0], y=caption_pos[i][1],
                            xref="paper", yref="paper", xanchor="center", yanchor="middle", showarrow=False,
                            font=dict(family="DejaVu Serif, Liberation Serif, serif", size=24, color="black")))

layout["shapes"] = shapes
layout["annotations"] = annotations
fig.update_layout(**layout)
fig.write_html("out.html")
